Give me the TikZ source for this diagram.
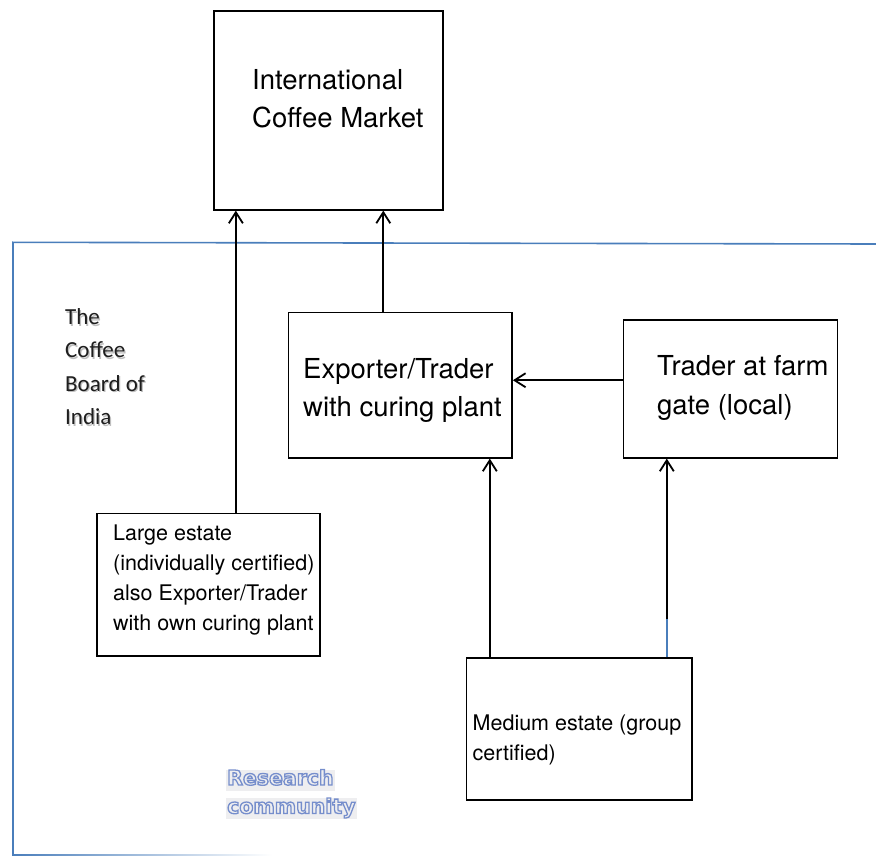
\documentclass[tikz,border=0pt]{standalone}
\usepackage{fontspec}
\setmainfont{TeX Gyre Heros}
\newfontfamily\boardfont{Carlito}
\newfontfamily\communityfont{DejaVu Sans}
\usetikzlibrary{arrows.meta}
\definecolor{frameblue}{RGB}{74,126,187}
\definecolor{outlineblue}{RGB}{118,142,204}
\definecolor{highlightgray}{RGB}{238,238,240}
\definecolor{boardtext}{RGB}{30,30,30}
\definecolor{boardshade}{RGB}{190,190,190}
\tikzset{
  box/.style={draw=black, line width=1.6pt, inner sep=0pt, anchor=north west},
  flow/.style={draw=black, line width=1.8pt,
    -{Straight Barb[length=11pt,width=14pt,line width=1.8pt]}},
  bigtext/.style={anchor=north west, inner sep=0pt, align=left,
    font=\fontsize{27.5}{38.5}\selectfont},
  smalltext/.style={anchor=north west, inner sep=0pt, align=left,
    font=\fontsize{21.5}{30}\selectfont},
  boardstyle/.style={anchor=north west, inner sep=0pt, align=left,
    font=\boardfont\fontsize{23}{33.3}\selectfont},
  community/.style={anchor=base west, inner xsep=1pt, inner ysep=0.5pt,
    fill=highlightgray, text height=15pt, text depth=5pt,
    font=\communityfont\bfseries\fontsize{20.5}{28}\selectfont},
}
% outlined lettering: stroke the glyph contours instead of filling them
\newcommand{\outlined}[1]{%
  \special{pdf:literal direct 1 Tr 1.3 w}\textcolor{outlineblue}{#1}%
  \special{pdf:literal direct 0 Tr}}
\begin{document}
\begin{tikzpicture}[x=1pt,y=-1pt]
\useasboundingbox (0,0) rectangle (876,856);

% region frame of the research community
\draw[frameblue, line width=1.6pt] (876,244) -- (13,242.3) -- (13,855);
\shade[left color=frameblue, right color=white] (12,854) rectangle (272,856);

% boxes
\node[box, minimum width=229pt, minimum height=199pt] (icm) at (213,10) {};
\node[box, minimum width=223.6pt, minimum height=145.3pt] (exporter) at (287.7,311.7) {};
\node[box, minimum width=214pt, minimum height=137.7pt] (farmgate) at (622.7,319.3) {};
\node[box, minimum width=223.3pt, minimum height=142.6pt] (large) at (96,512.7) {};
\node[box, minimum width=225.6pt, minimum height=142pt] (medium) at (465.7,657.3) {};

% box texts
\node[bigtext] (icmtext) at (252,69) {International\\Coffee Market};
\node[bigtext] (exportertext) at (303,358) {Exporter/Trader\\with curing plant};
\node[bigtext] (farmgatetext) at (657,355.5) {Trader at farm\\gate (local)};
\node[smalltext] (largetext) at (113,524.5) {Large estate\\(individually certified)\\also Exporter/Trader\\with own curing plant};
\node[smalltext] (mediumtext) at (472.5,714.3) {Medium estate (group\\certified)};

% connector end points on the box edges
\coordinate (largeout) at ([xshift=27.4pt]large.north);
\coordinate (exporterout) at ([xshift=-17pt]exporter.north);
\coordinate (farmgateout) at ([yshift=8.7pt]farmgate.west);
\coordinate (mediumleft) at ([xshift=-89.5pt]medium.north);
\coordinate (mediumright) at ([xshift=87.5pt]medium.north);

% flows
\draw[flow] (largeout) -- (largeout |- icm.south);
\draw[flow] (exporterout) -- (exporterout |- icm.south);
\draw[flow] (farmgateout) -- (farmgateout -| exporter.east);
\draw[flow] (mediumleft) -- (mediumleft |- exporter.south);
\draw[flow] (mediumright) -- (mediumright |- farmgate.south);
\draw[frameblue, line width=1.4pt] (mediumright) -- ++(0,-50);
\draw[black, line width=1.8pt] ([yshift=38pt]mediumright) -- ++(0,-12);

% free labels
\node[boardstyle, text=boardshade] (boardshadow) at (66.2,310) {The\\Coffee\\Board of\\India};
\node[boardstyle, text=boardtext] (board) at (65,308.5) {The\\Coffee\\Board of\\India};
\node[community] (research) at (226,785) {\outlined{Research}};
\node[community] (communitylabel) at (226,813.5) {\outlined{community}};
\end{tikzpicture}
\end{document}
